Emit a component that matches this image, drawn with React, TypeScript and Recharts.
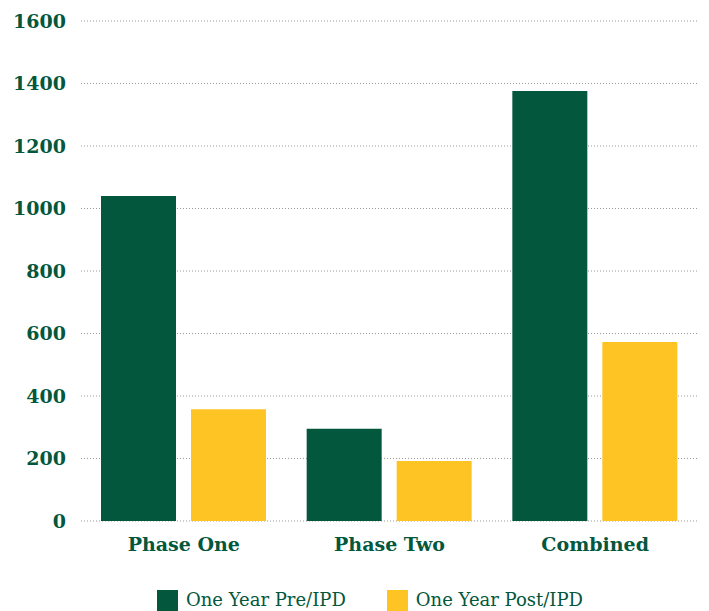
import { BarChart, Bar, XAxis, YAxis, CartesianGrid, Legend } from 'recharts';

const phases = ['Phase One', 'Phase Two', 'Combined'];
const preIpd = [1040, 295, 1376];
const postIpd = [358, 192, 573];
const yTicks = [0, 200, 400, 600, 800, 1000, 1200, 1400, 1600];

const GREEN = '#03573c';
const GOLD = '#fdc423';
const SERIF = '"DejaVu Serif", Georgia, serif';

const chartData = phases.map((phase, i) => ({
  phase,
  pre: preIpd[i],
  post: postIpd[i],
}));

const legendItems = [
  { label: 'One Year Pre/IPD', color: GREEN },
  { label: 'One Year Post/IPD', color: GOLD },
];

function LegendContent() {
  return (
    <div style={{ display: 'flex', alignItems: 'center', paddingLeft: 157, height: 22 }}>
      {legendItems.map((item, i) => (
        <div
          key={item.label}
          style={{ display: 'flex', alignItems: 'center', marginLeft: i ? 41 : 0 }}
        >
          <span style={{ width: 21, height: 21, background: item.color, display: 'inline-block' }} />
          <span
            style={{
              marginLeft: 8,
              fontFamily: SERIF,
              fontSize: 18,
              color: GREEN,
              lineHeight: '22px',
            }}
          >
            {item.label}
          </span>
        </div>
      ))}
    </div>
  );
}

export default function App() {
  return (
    <div style={{ position: 'absolute', left: 0, top: 0, background: '#fff' }}>
      <BarChart
        width={709}
        height={611}
        data={chartData}
        margin={{ top: 21, right: 11, bottom: 0, left: 0 }}
        barSize={75}
        barGap={15}
      >
        <XAxis
          dataKey="phase"
          axisLine={false}
          tickLine={false}
          tickSize={0}
          tickMargin={17}
          height={68}
          tick={{ fill: GREEN, fontFamily: SERIF, fontWeight: 700, fontSize: 19 }}
        />
        <YAxis
          domain={[0, 1600]}
          ticks={yTicks}
          axisLine={false}
          tickLine={false}
          tickSize={0}
          tickMargin={15}
          width={81}
          tick={{ fill: GREEN, fontFamily: SERIF, fontWeight: 700, fontSize: 19 }}
        />
        <Bar dataKey="pre" name="One Year Pre/IPD" fill={GREEN} isAnimationActive={false} />
        <Bar dataKey="post" name="One Year Post/IPD" fill={GOLD} isAnimationActive={false} />
        {/* grid goes after the bars so the dotted lines sit on top of them */}
        <CartesianGrid vertical={false} stroke="#999" strokeDasharray="1 2" />
        <Legend
          verticalAlign="bottom"
          content={<LegendContent />}
          wrapperStyle={{ left: 0, width: 709, bottom: 0 }}
        />
      </BarChart>
    </div>
  );
}
